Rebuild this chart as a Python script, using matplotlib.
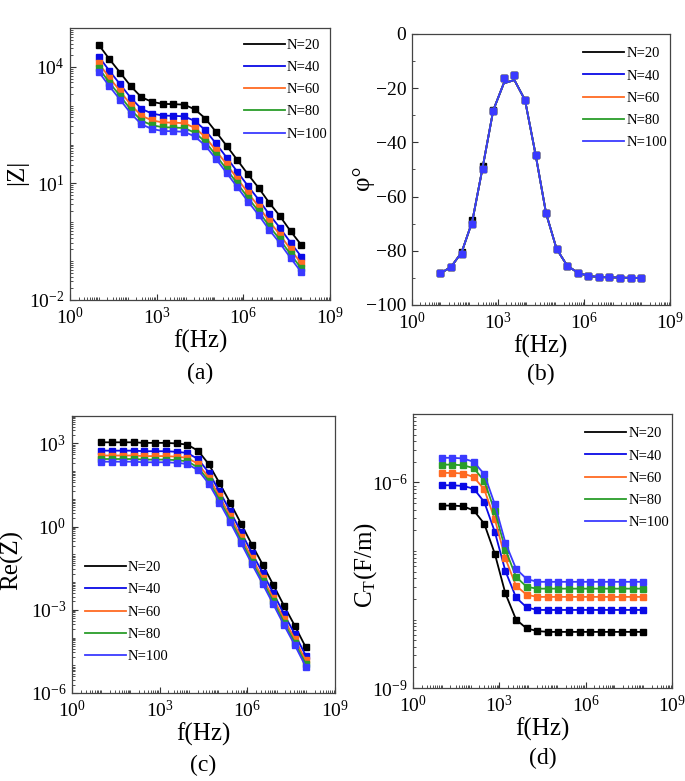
import matplotlib
matplotlib.use('Agg')
import matplotlib.pyplot as plt
import matplotlib.ticker as mticker
import numpy as np

plt.rcParams['font.family'] = ['Liberation Serif', 'DejaVu Serif']
plt.rcParams['mathtext.fontset'] = 'custom'
plt.rcParams['mathtext.rm'] = 'Liberation Serif'
plt.rcParams['mathtext.it'] = 'Liberation Serif:italic'

# frequency points (Hz)
freq = [10, 23.4, 55, 129, 298, 695, 1620, 3800, 8900, 20900,
        48300, 112000, 263000, 617000, 1450000, 3390000, 7760000,
        18200000, 42700000, 100000000]

labels = ['N=20', 'N=40', 'N=60', 'N=80', 'N=100']
colors = ['#000000', '#0a0ae6', '#ff6a22', '#2a9d2a', '#3a3aff']

# (a) |Z|
absz_20 = [37000, 15800, 7100, 3160, 1660, 1260, 1120, 1100, 1070, 810,
           470, 214, 93, 40, 17, 7.6, 3.2, 1.45, 0.59, 0.26]
absz_40 = [18500, 7900, 3550, 1580, 830, 630, 560, 550, 535, 405,
           235, 107, 46.5, 20, 8.5, 3.8, 1.6, 0.72, 0.30, 0.13]
absz_60 = [12300, 5270, 2370, 1050, 553, 420, 373, 367, 357, 270,
           157, 71, 31, 13.3, 5.7, 2.5, 1.07, 0.48, 0.20, 0.087]
absz_80 = [9250, 3950, 1780, 790, 415, 315, 280, 275, 268, 203,
           118, 53.5, 23, 10, 4.25, 1.9, 0.8, 0.36, 0.15, 0.065]
absz_100 = [7400, 3160, 1420, 632, 332, 252, 224, 220, 214, 162,
            94, 43, 18.6, 8.0, 3.4, 1.52, 0.64, 0.29, 0.12, 0.052]

# (b) phase (degrees)
phase_20 = [-88.3, -86.0, -80.3, -68.6, -48.6, -28.0, -16.2, -15.3, -24.4, -44.6,
            -66.2, -79.3, -85.5, -88.1, -89.3, -89.7, -89.8, -89.9, -90.0, -90.0]
phase_40 = phase_60 = phase_80 = phase_100 = [
    -88.3, -86.1, -81.2, -70.1, -49.9, -28.4, -16.4, -15.3, -24.4, -44.6,
    -66.2, -79.3, -85.5, -88.1, -89.3, -89.7, -89.8, -89.9, -90.0, -90.0]
phase_line = [-88.3, -86.0, -80.6, -69.2, -49.2, -28.2, -18.2, -17.0, -24.4, -44.6,
              -66.2, -79.3, -85.5, -88.1, -89.3, -89.7, -89.8, -89.9, -90.0, -90.0]

# (c) Re(Z)
re_20 = [1100, 1100, 1100, 1100, 1050, 1050, 1050, 1000, 910, 540,
         178, 37, 7.1, 1.26, 0.22, 0.042, 0.0079, 0.00138, 0.00026, 0.0000447]
re_40 = [550, 550, 550, 550, 525, 525, 525, 500, 455, 270,
         89, 18.5, 3.55, 0.63, 0.11, 0.021, 0.0040, 0.00069, 0.00013, 0.0000224]
re_60 = [367, 367, 367, 367, 350, 350, 350, 333, 303, 180,
         59, 12.3, 2.37, 0.42, 0.073, 0.014, 0.0026, 0.00046, 0.000087, 0.0000149]
re_80 = [275, 275, 275, 275, 262, 262, 262, 250, 228, 135,
         44.5, 9.25, 1.78, 0.315, 0.055, 0.0105, 0.0020, 0.000345, 0.000065, 0.0000112]
re_100 = [220, 220, 220, 220, 210, 210, 210, 200, 182, 108,
          35.6, 7.4, 1.42, 0.252, 0.044, 0.0084, 0.00158, 0.000276, 0.000052, 0.0000089]

# (d) C_T (F/m)
ct_20 = [4.6e-7, 4.6e-7, 4.5e-7, 3.9e-7, 2.5e-7, 9.1e-8, 2.4e-8, 1.0e-8, 7.4e-9, 6.8e-9,
         6.6e-9, 6.6e-9, 6.6e-9, 6.6e-9, 6.6e-9, 6.6e-9, 6.6e-9, 6.6e-9, 6.6e-9, 6.6e-9]
ct_40 = [9.1e-7, 9.1e-7, 8.9e-7, 8.1e-7, 5.2e-7, 1.9e-7, 5.1e-8, 2.1e-8, 1.5e-8, 1.38e-8,
         1.38e-8, 1.38e-8, 1.38e-8, 1.38e-8, 1.38e-8, 1.38e-8, 1.38e-8, 1.38e-8, 1.38e-8, 1.38e-8]
ct_60 = [1.38e-6, 1.38e-6, 1.35e-6, 1.2e-6, 7.9e-7, 2.9e-7, 7.8e-8, 3.1e-8, 2.3e-8, 2.14e-8,
         2.14e-8, 2.14e-8, 2.14e-8, 2.14e-8, 2.14e-8, 2.14e-8, 2.14e-8, 2.14e-8, 2.14e-8, 2.14e-8]
ct_80 = [1.82e-6, 1.82e-6, 1.78e-6, 1.62e-6, 1.05e-6, 3.8e-7, 1.05e-7, 4.2e-8, 3.0e-8, 2.82e-8,
         2.82e-8, 2.82e-8, 2.82e-8, 2.82e-8, 2.82e-8, 2.82e-8, 2.82e-8, 2.82e-8, 2.82e-8, 2.82e-8]
ct_100 = [2.29e-6, 2.29e-6, 2.24e-6, 2.0e-6, 1.32e-6, 4.8e-7, 1.32e-7, 5.5e-8, 3.9e-8, 3.55e-8,
          3.55e-8, 3.55e-8, 3.55e-8, 3.55e-8, 3.55e-8, 3.55e-8, 3.55e-8, 3.55e-8, 3.55e-8, 3.55e-8]


def style(ax, ylog=True):
    ax.set_xscale('log')
    ax.set_xlim(1, 1e9)
    ax.xaxis.set_major_locator(mticker.FixedLocator([1, 1e3, 1e6, 1e9]))
    ax.xaxis.set_major_formatter(mticker.LogFormatterSciNotation())
    ax.xaxis.set_minor_locator(mticker.LogLocator(base=10, subs=np.arange(1, 10), numticks=100))
    ax.xaxis.set_minor_formatter(mticker.NullFormatter())
    if ylog:
        ax.yaxis.set_minor_locator(mticker.LogLocator(base=10, subs=np.arange(1, 10), numticks=100))
        ax.yaxis.set_minor_formatter(mticker.NullFormatter())
    ax.tick_params(which='both', direction='in', top=False, right=False,
                   labelsize=14, colors='#333333', labelcolor='black')
    ax.tick_params(which='major', length=4, width=0.8, pad=4)
    ax.tick_params(axis='x', which='major', pad=5)
    ax.tick_params(which='minor', length=2.2, width=0.6)
    for s in ax.spines.values():
        s.set_color('#444444')
        s.set_linewidth(0.9)
    ax.set_xlabel('f(Hz)', fontsize=18, labelpad=1)


def draw(ax, ys, line_ys=None):
    for y, lab, c in zip(ys, labels, colors):
        ly = y if line_ys is None else line_ys
        ax.plot(freq, ly, '-', color=c, lw=1.3, label=lab)
        ax.plot(freq, y, 's', color=c, ms=4.4, mec=c)


def leg(ax, **kw):
    ax.legend(frameon=False, fontsize=10.5, handlelength=2.8, handletextpad=0.15,
              labelspacing=0.62, **kw)


fig = plt.figure(figsize=(6.85, 7.81), dpi=100)

# (a)
ax = fig.add_axes([0.102, 0.616, 0.380, 0.348])
draw(ax, [absz_20, absz_40, absz_60, absz_80, absz_100])
ax.set_yscale('log')
ax.set_ylim(1e-2, 1e5)
ax.yaxis.set_major_locator(mticker.FixedLocator([1e-2, 1e1, 1e4]))
ax.yaxis.set_major_formatter(mticker.LogFormatterSciNotation())
style(ax)
ax.set_ylabel('|Z|', fontsize=18)
ax.yaxis.set_label_coords(-0.16, 0.47)
leg(ax, loc='upper right', bbox_to_anchor=(1.04, 1.01))
ax.text(0.5, -0.27, '(a)', transform=ax.transAxes, ha='center', va='center', fontsize=17)

# (b)
ax = fig.add_axes([0.601, 0.6095, 0.377, 0.347])
draw(ax, [phase_20, phase_40, phase_60, phase_80, phase_100], phase_line)
style(ax, ylog=False)
ax.set_ylim(-100, 0)
ax.yaxis.set_major_locator(mticker.MultipleLocator(20))
ax.yaxis.set_minor_locator(mticker.MultipleLocator(10))
ax.set_ylabel('φ°', fontsize=18)
ax.yaxis.set_label_coords(-0.145, 0.47)
leg(ax, loc='upper right', bbox_to_anchor=(1.04, 1.0))
ax.text(0.5, -0.255, '(b)', transform=ax.transAxes, ha='center', va='center', fontsize=17)

# (c)
ax = fig.add_axes([0.105, 0.1127, 0.384, 0.355])
draw(ax, [re_20, re_40, re_60, re_80, re_100])
ax.set_yscale('log')
ax.set_ylim(1e-6, 1e4)
ax.yaxis.set_major_locator(mticker.FixedLocator([1e-6, 1e-3, 1e0, 1e3]))
ax.yaxis.set_major_formatter(mticker.LogFormatterSciNotation())
style(ax)
ax.set_ylabel('Re(Z)', fontsize=18)
ax.yaxis.set_label_coords(-0.185, 0.48)
leg(ax, loc='lower left', bbox_to_anchor=(0.0, 0.06))
ax.text(0.5, -0.26, '(c)', transform=ax.transAxes, ha='center', va='center', fontsize=17)

# (d)
ax = fig.add_axes([0.603, 0.119, 0.378, 0.351])
draw(ax, [ct_20, ct_40, ct_60, ct_80, ct_100])
ax.set_yscale('log')
ax.set_ylim(1e-9, 1e-5)
ax.yaxis.set_major_locator(mticker.FixedLocator([1e-9, 1e-6]))
ax.yaxis.set_major_formatter(mticker.LogFormatterSciNotation())
style(ax)
ax.set_ylabel(r'C$_\mathregular{T}$(F/m)', fontsize=18)
ax.yaxis.set_label_coords(-0.13, 0.45)
leg(ax, loc='upper right', bbox_to_anchor=(1.04, 1.0))
ax.text(0.5, -0.255, '(d)', transform=ax.transAxes, ha='center', va='center', fontsize=17)

fig.savefig('out.png', dpi=100)
